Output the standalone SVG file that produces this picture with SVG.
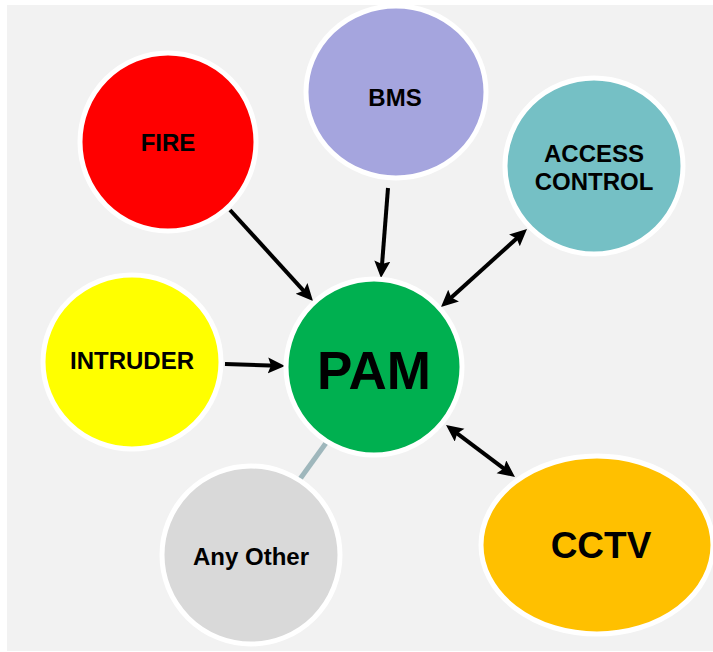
<svg xmlns="http://www.w3.org/2000/svg" width="713" height="652" viewBox="0 0 713 652">
<defs>
<style>
.n{stroke:#ffffff;stroke-width:5}
.t{font-family:"Liberation Sans",Arial,sans-serif;font-weight:bold;fill:#000;text-anchor:middle}
.s{font-size:24px}
.c{stroke:#000;stroke-width:4;fill:none}
</style>
<marker id="ah" markerUnits="userSpaceOnUse" markerWidth="18" markerHeight="18" viewBox="0 0 18 18" refX="9" refY="8" orient="auto-start-reverse">
<path d="M0,0 L17,8 L0,16 L3,8 z" fill="#000"/>
</marker>
</defs>
<rect x="7" y="5" width="706" height="646" fill="#f2f2f2"/>
<g id="connectors">
<line x1="300" y1="479" x2="326" y2="443" stroke="#9fb7bc" stroke-width="5"/>
<line class="c" x1="230" y1="210" x2="307.6" y2="295.1" marker-end="url(#ah)"/>
<line class="c" x1="388" y1="188" x2="381.6" y2="270" marker-end="url(#ah)"/>
<line class="c" x1="225" y1="364" x2="277" y2="365.7" marker-end="url(#ah)"/>
<line class="c" x1="446.9" y1="301.6" x2="521.1" y2="234.4" marker-start="url(#ah)" marker-end="url(#ah)"/>
<line class="c" x1="452.4" y1="429.8" x2="508.6" y2="472.2" marker-start="url(#ah)" marker-end="url(#ah)"/>
</g>
<g id="fire">
<ellipse class="n" cx="168" cy="142" rx="88" ry="89" fill="#ff0000"/>
<text class="t s" x="168" y="151">FIRE</text>
</g>
<g id="bms">
<ellipse class="n" cx="396" cy="92" rx="90" ry="86" fill="#a5a5de"/>
<text class="t s" x="395" y="106">BMS</text>
</g>
<g id="access-control">
<ellipse class="n" cx="594" cy="166" rx="89" ry="88" fill="#75c0c5"/>
<text class="t s" x="594" y="162">ACCESS</text>
<text class="t s" x="594" y="190">CONTROL</text>
</g>
<g id="intruder">
<ellipse class="n" cx="132" cy="362" rx="89" ry="87" fill="#ffff00"/>
<text class="t s" x="132" y="369">INTRUDER</text>
</g>
<g id="pam">
<circle class="n" cx="374" cy="367" r="88" fill="#00b050"/>
<text class="t" x="374" y="389" font-size="53">PAM</text>
</g>
<g id="any-other">
<ellipse class="n" cx="251" cy="555" rx="89" ry="89" fill="#d9d9d9"/>
<text class="t s" x="251" y="565">Any Other</text>
</g>
<g id="cctv">
<ellipse class="n" cx="597" cy="545" rx="116" ry="89" fill="#ffc000"/>
<text class="t" x="601" y="558" font-size="37">CCTV</text>
</g>
</svg>
